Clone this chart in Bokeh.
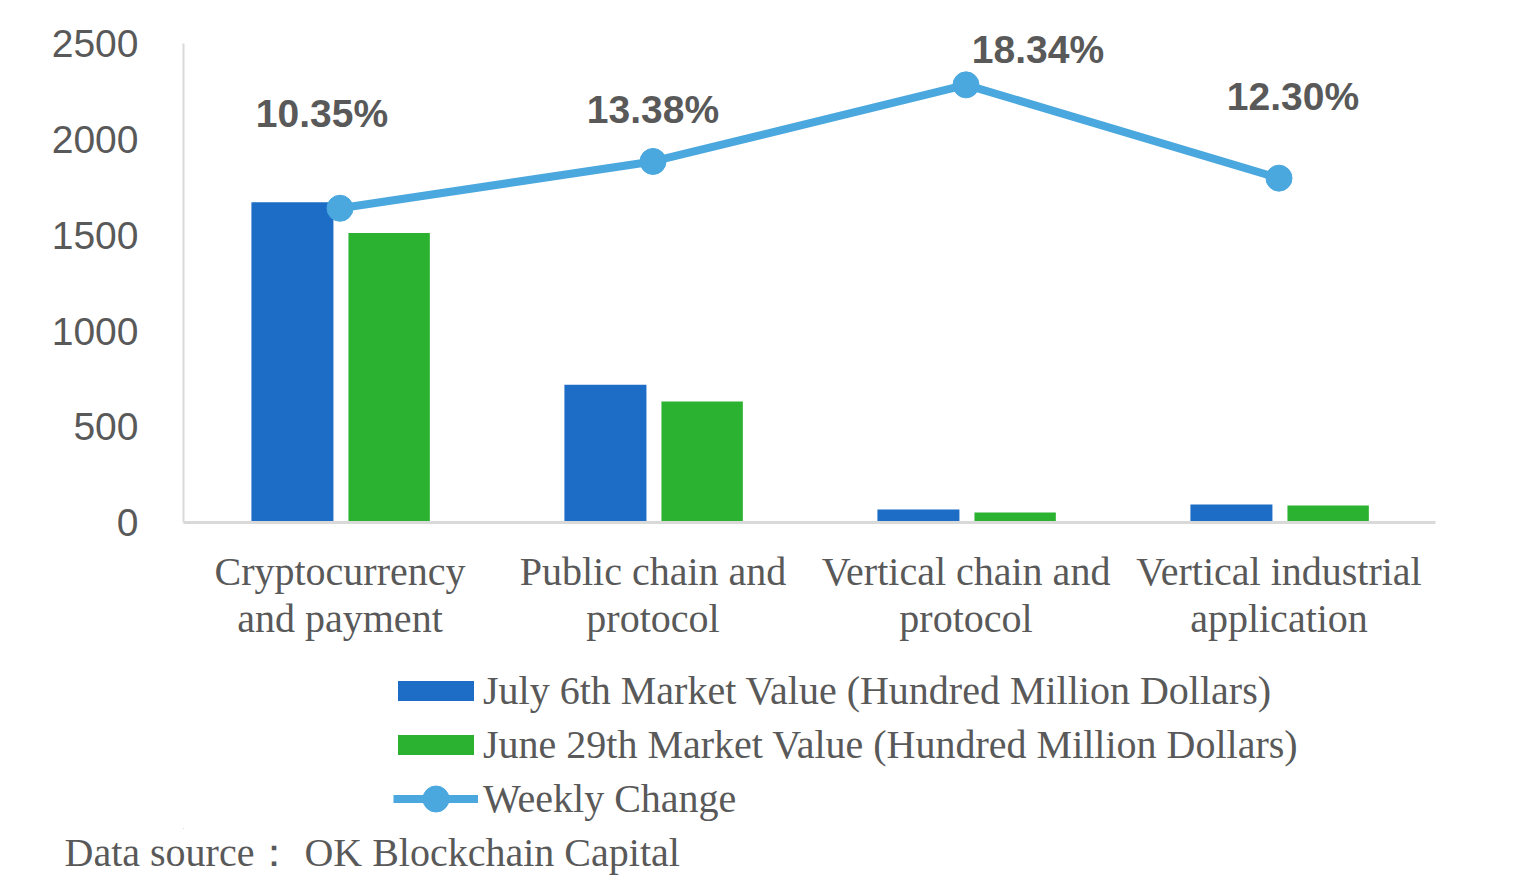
from bokeh.plotting import figure
from bokeh.layouts import column
from bokeh.models import (ColumnDataSource, FactorRange, Range1d, FixedTicker,
                          Legend, LegendItem, LabelSet, Title)
from bokeh.core.properties import value
from bokeh.transform import dodge
from bokeh.embed import file_html
from bokeh.resources import INLINE

# ---------------- data ----------------
categories = ["Cryptocurrency\nand payment", "Public chain and\nprotocol",
              "Vertical chain and\nprotocol", "Vertical industrial\napplication"]
july6_values = [1672, 720, 68, 94]
june29_values = [1512, 632, 52, 89]
weekly_change = [10.35, 13.38, 18.34, 12.30]
change_labels = ["10.35%", "13.38%", "18.34%", "12.30%"]
y_ticks = [0, 500, 1000, 1500, 2000, 2500]
series_names = ["July 6th Market Value (Hundred Million Dollars)",
                "June 29th Market Value (Hundred Million Dollars)",
                "Weekly Change"]
source_note = "Data source\uff1a OK Blockchain Capital"

# ---------------- layout / style ----------------
Y_MAX = 2500          # top of the value axis
Y_END = 2700          # frame extends a bit above so labels are not clipped
PCT_MIN, PCT_MAX = -10, 21   # secondary (hidden) axis for the weekly change
pct_end = PCT_MIN + (PCT_MAX - PCT_MIN) * Y_END / Y_MAX

label_dx = [-18, 0, 72, 14]
label_dy = [95, 52, 35, 82]

BLUE = "#1d6cc5"
GREEN = "#2bb230"
LINE = "#4aa8df"
TEXT = "#595959"
AXIS = "#d9d9d9"
SANS = "Liberation Sans"
SERIF = "Liberation Serif"
LEFT, FW, RIGHT = 183, 1252, 79
H1 = 660
Q_FRAME = 168
Q_BOTTOM = 34

src = ColumnDataSource(dict(cat=categories, july=july6_values, june=june29_values,
                            chg=weekly_change, lbl=change_labels,
                            dx=label_dx, dy=label_dy))

p = figure(frame_width=FW, frame_height=517, output_backend="svg",
           toolbar_location=None,
           x_range=FactorRange(factors=categories, range_padding=0),
           y_range=Range1d(0, Y_END),
           min_border_left=LEFT, min_border_right=RIGHT, min_border_top=5,
           min_border_bottom=H1 - 5 - 517)
p.extra_y_ranges = {"pct": Range1d(PCT_MIN, pct_end)}
p.outline_line_color = None
p.background_fill_color = "white"
p.border_fill_color = "white"
p.xgrid.visible = False
p.ygrid.visible = False

p.vbar(x=dodge("cat", -0.152, range=p.x_range), top="july", width=0.262,
       source=src, fill_color=BLUE, line_color=None)
p.vbar(x=dodge("cat", 0.157, range=p.x_range), top="june", width=0.26,
       source=src, fill_color=GREEN, line_color=None)
p.line(x="cat", y="chg", source=src, y_range_name="pct",
       line_color=LINE, line_width=8)
p.scatter(x="cat", y="chg", source=src, y_range_name="pct", size=26,
          fill_color=LINE, line_color=LINE)

labels = LabelSet(x="cat", y="chg", text="lbl", source=src, y_range_name="pct",
                  x_offset="dx", y_offset="dy", text_align="center",
                  text_baseline="middle", text_font=value(SANS),
                  text_font_style="bold", text_font_size="39px",
                  text_color=TEXT)
p.add_layout(labels)

# axes
yax = p.yaxis[0]
yax.ticker = FixedTicker(ticks=y_ticks)
yax.bounds = (0, Y_MAX)
yax.axis_line_color = AXIS
yax.axis_line_width = 2
yax.major_tick_line_color = None
yax.minor_tick_line_color = None
yax.major_tick_out = 0
yax.major_label_standoff = 45
yax.major_label_text_font = SANS
yax.major_label_text_font_size = "39px"
yax.major_label_text_color = TEXT

xax = p.xaxis[0]
xax.axis_line_color = AXIS
xax.axis_line_width = 3
xax.major_tick_line_color = None
xax.minor_tick_line_color = None
xax.major_tick_out = 0
xax.major_label_standoff = 26
xax.major_label_text_font = SERIF
xax.major_label_text_font_size = "40px"
xax.major_label_text_color = TEXT
xax.major_label_text_line_height = 1.05

# ---------------- legend strip below the chart ----------------
q = figure(frame_width=FW, frame_height=Q_FRAME, output_backend="svg",
           toolbar_location=None, x_range=Range1d(0, 1), y_range=Range1d(0, 1),
           x_axis_location=None, y_axis_location=None,
           min_border_left=LEFT, min_border_right=RIGHT, min_border_top=0,
           min_border_bottom=Q_BOTTOM)
q.outline_line_color = None
q.xgrid.visible = False
q.ygrid.visible = False
# legend key renderers: their points lie outside the visible range
off = ColumnDataSource(dict(x=[-5, -6], y=[-5, -6]))
k1 = q.vbar(x="x", top="y", width=0.1, source=off, fill_color=BLUE, line_color=None)
k2 = q.vbar(x="x", top="y", width=0.1, source=off, fill_color=GREEN, line_color=None)
k3 = q.line(x="x", y="y", source=off, line_color=LINE, line_width=8)
k4 = q.scatter(x="x", y="y", source=off, size=26, fill_color=LINE, line_color=LINE)

leg1 = Legend(items=[LegendItem(label=series_names[0], renderers=[k1]),
                     LegendItem(label=series_names[1], renderers=[k2])],
              location=(205, 60), glyph_width=95, glyph_height=25,
              label_height=46, label_standoff=0, spacing=7, padding=0,
              margin=0, border_line_color=None, background_fill_alpha=0,
              label_text_font=SERIF, label_text_font_size="40px",
              label_text_color=TEXT)
leg2 = Legend(items=[LegendItem(label=series_names[2], renderers=[k3, k4])],
              location=(210, -3), glyph_width=85, glyph_height=65,
              label_standoff=5, padding=0, margin=0,
              border_line_color=None, background_fill_alpha=0,
              label_text_font=SERIF, label_text_font_size="40px",
              label_text_color=TEXT)
q.add_layout(leg1)
q.add_layout(leg2)

note = Title(text=source_note, align="left", offset=64 - LEFT, standoff=0,
             vertical_align="middle", text_line_height=0.7, text_font=SERIF,
             text_font_size="40px", text_font_style="normal", text_color=TEXT)
q.add_layout(note, "below")

layout = column(p, q, spacing=0)
open("out.html", "w").write(file_html(layout, INLINE))
